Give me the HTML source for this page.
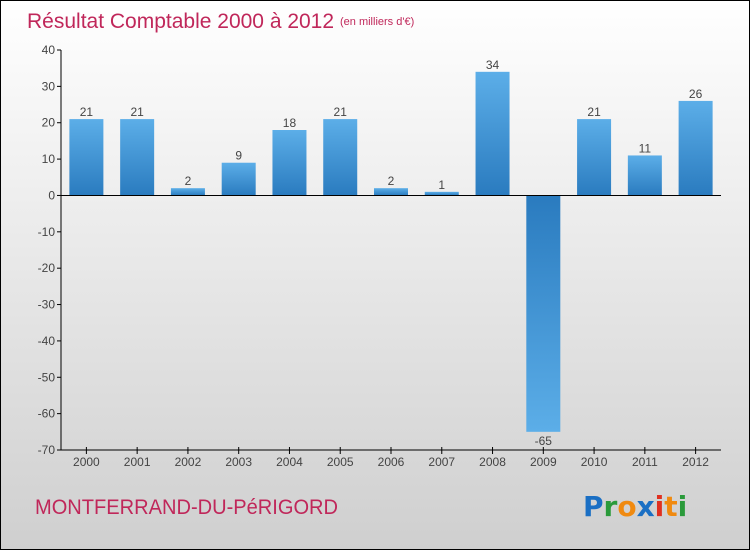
<!DOCTYPE html>
<html><head><meta charset="utf-8"><style>
body{margin:0}
svg{display:block;font-family:"Liberation Sans","DejaVu Sans",sans-serif}
</style></head><body>
<svg width="750" height="550" viewBox="0 0 750 550">
<defs>
<linearGradient id="bg" x1="0" y1="0" x2="0" y2="1"><stop offset="0" stop-color="#ffffff"/><stop offset="1" stop-color="#cfcfcf"/></linearGradient>
<linearGradient id="pos" x1="0" y1="0" x2="0" y2="1"><stop offset="0" stop-color="#5caee8"/><stop offset="1" stop-color="#2a7bbf"/></linearGradient>
<linearGradient id="neg" x1="0" y1="0" x2="0" y2="1"><stop offset="0" stop-color="#2a7bbf"/><stop offset="1" stop-color="#5caee8"/></linearGradient>
</defs>
<rect x="0.5" y="0.5" width="749" height="549" fill="url(#bg)" stroke="#000"/>
<text x="27" y="28" font-size="21" fill="#c0275a">Résultat Comptable 2000 à 2012</text>
<text x="340" y="25" font-size="11" fill="#c0275a">(en milliers d'€)</text>
<g id="plot"></g>
<text x="35" y="514" font-size="21" fill="#c0275a" textLength="303" lengthAdjust="spacingAndGlyphs">MONTFERRAND-DU-PéRIGORD</text>
<g font-size="28" font-family="'DejaVu Sans',sans-serif" font-weight="bold">
<text x="583" y="516"><tspan fill="#1a6fc4">P</tspan><tspan fill="#2a9a3a">r</tspan><tspan fill="#f08a10">o</tspan><tspan fill="#1a6fc4">x</tspan><tspan fill="#e03020">i</tspan><tspan fill="#f08a10">t</tspan><tspan fill="#2a9a3a">i</tspan></text>
</g>
</svg>
<script>
const categories=["2000","2001","2002","2003","2004","2005","2006","2007","2008","2009","2010","2011","2012"];
const values=[21,21,2,9,18,21,2,1,34,-65,21,11,26];
const yTicks=[40,30,20,10,0,-10,-20,-30,-40,-50,-60,-70];
const NS="http://www.w3.org/2000/svg";
const g=document.getElementById('plot');
const x0=61,x1=721,yTop=50,yBot=450,vMax=40,vMin=-70;
const band=(x1-x0)/categories.length;
const y=v=>yTop+(vMax-v)*(yBot-yTop)/(vMax-vMin);
const xc=i=>x0+band*(i+0.5);
function el(t,a){const e=document.createElementNS(NS,t);for(const k in a)e.setAttribute(k,a[k]);g.appendChild(e);return e;}
yTicks.forEach(t=>{
 const l=el('line',{x1:x0-4,x2:x0,y1:y(t),y2:y(t),stroke:'#000'});
 
 
 const tx=el('text',{x:x0-6,y:y(t)+4,'font-size':12,fill:'#444','text-anchor':'end'});
 tx.textContent=t;
 
 
});
values.forEach((v,i)=>{
 const w=34,top=Math.min(y(v),y(0)),h=Math.abs(y(v)-y(0));
 const r=el('rect',{x:xc(i)-w/2,y:top,width:w,height:h,fill:v>=0?'url(#pos)':'url(#neg)'});
 
 
 const t=el('text',{x:xc(i),y:v>=0?y(v)-3:y(v)+13,'font-size':12,fill:'#444','text-anchor':'middle'});
 t.textContent=v;
 
 
 const tk=el('line',{x1:xc(i),x2:xc(i),y1:yBot-3,y2:yBot+4,stroke:'#000'});
 
 
 const c=el('text',{x:xc(i),y:yBot+16,'font-size':12,fill:'#444','text-anchor':'middle'});
 c.textContent=categories[i];
 
 
});
const ya=el('line',{x1:x0,x2:x0,y1:yTop,y2:yBot,stroke:'#000'});


const xa=el('line',{x1:x0,x2:x1,y1:yBot,y2:yBot,stroke:'#000'});


const z=el('line',{x1:x0,x2:x1,y1:y(0),y2:y(0),stroke:'#000'});


</script>
</body></html>
